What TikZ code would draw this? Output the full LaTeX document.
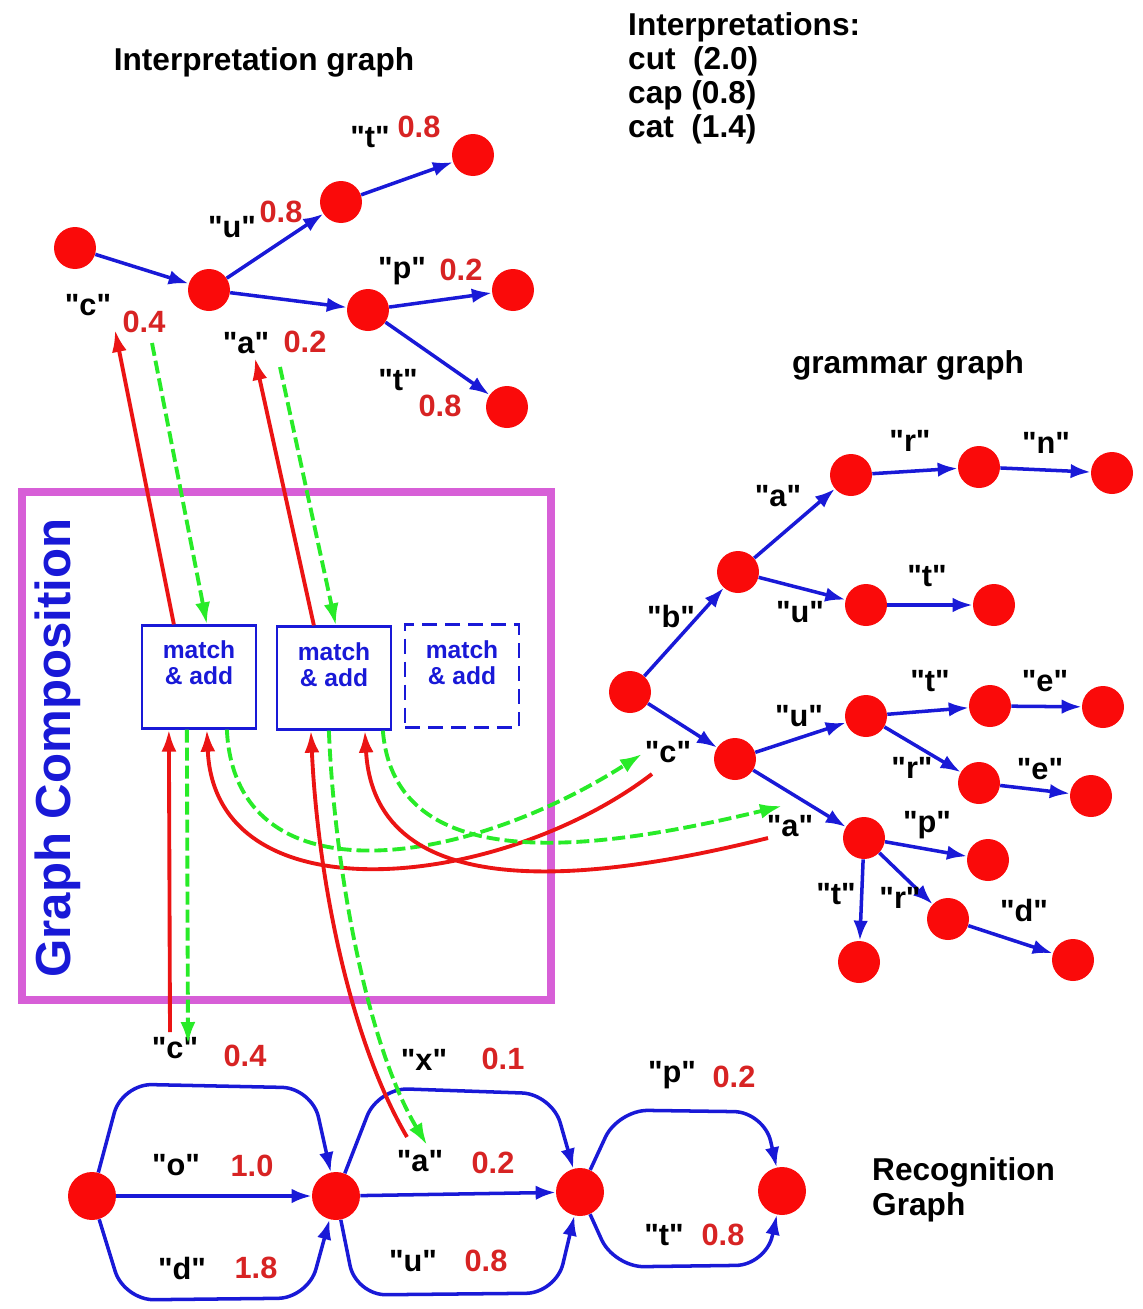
\documentclass[tikz,border=0pt]{standalone}
\usepackage{fontspec}
\setmainfont[Ligatures=TeXOff]{Liberation Sans}
\usetikzlibrary{arrows.meta,calc}

\definecolor{nodered}{RGB}{250,10,10}
\definecolor{edgeblue}{RGB}{25,25,215}
\definecolor{wtred}{RGB}{215,35,35}
\definecolor{compmag}{RGB}{215,95,215}
\definecolor{arrred}{RGB}{235,20,20}
\definecolor{arrgreen}{RGB}{40,235,40}

\begin{document}
\begin{tikzpicture}[
    x=0.02cm, y=-0.02cm,
    font=\bfseries,
    vertex/.style={circle, fill=nodered, inner sep=0pt, minimum size=0.84cm},
    bigvertex/.style={vertex, minimum size=0.96cm},
    link/.style={draw=edgeblue, line width=2pt, -{Latex[length=4mm,width=2.9mm]}},
    sym/.style={font=\fontsize{17.5}{19}\selectfont\bfseries},
    wt/.style={sym, text=wtred},
    heading/.style={font=\fontsize{18}{20}\selectfont\bfseries, align=left},
    matchbox/.style={draw=edgeblue, line width=1.3pt, minimum width=2.28cm, minimum height=2.06cm},
    matchtext/.style={text=edgeblue, align=center, font=\fontsize{14}{15}\selectfont\bfseries},
    redarrow/.style={draw=arrred, line width=2.2pt, -{Latex[length=4.4mm,width=3mm]}},
    greenarrow/.style={draw=arrgreen, line width=2.2pt, dash pattern=on 0.26cm off 0.1cm, -{Latex[length=4.4mm,width=3mm]}}
]
\useasboundingbox (0,0) rectangle (1143,1309);

% headings
\node[heading] (ititle) at (264,62) {Interpretation graph};
\node[heading, anchor=north west, font=\fontsize{18}{19.5}\selectfont\bfseries] (ilist) at (622,6) {Interpretations:\\cut~~(2.0)\\cap (0.8)\\cat~~(1.4)};
\node[heading] (gtitle) at (908,365) {grammar graph};
\node[heading, anchor=west, font=\fontsize{18}{20}\selectfont\bfseries] (rtitle) at (866,1190) {Recognition\\Graph};

% graph composition
\draw[compmag, line width=4pt] (22,492) rectangle (551,1000);
\node[rotate=90, text=edgeblue, font=\fontsize{28}{30}\selectfont\bfseries] (ctitle) at (58,748) {Graph Composition};

\node[matchbox] (m1) at (199,677) {};
\node[matchbox] (m2) at (334,678) {};
\node[matchbox, dashed, dash pattern=on 0.3cm off 0.16cm] (m3) at (462,676) {};
\node[matchtext] (m1t) at (199,663) {match\\\& add};
\node[matchtext] (m2t) at (334,665) {match\\\& add};
\node[matchtext] (m3t) at (462,663) {match\\\& add};

% interpretation graph
\node[vertex] (i0) at (75,248) {};
\node[vertex] (i1) at (209,290) {};
\node[vertex] (i2) at (341,202) {};
\node[vertex] (i3) at (473,155) {};
\node[vertex] (i4) at (368,310) {};
\node[vertex] (i5) at (513,290) {};
\node[vertex] (i6) at (507,407) {};

\draw[link] (i0) -- (i1);
\draw[link] (i1) -- (i2);
\draw[link] (i2) -- (i3);
\draw[link] (i1) -- (i4);
\draw[link] (i4) -- (i5);
\draw[link] (i4) -- (i6);

\node[sym] (lc) at (88,305) {"c"};
\node[wt] (wc) at (144,322) {0.4};
\node[sym] (lu) at (232,227) {"u"};
\node[wt] (wu) at (281,212) {0.8};
\node[sym] (lt1) at (370,137) {"t"};
\node[wt] (wt1) at (419,127) {0.8};
\node[sym] (lp) at (402,271) {"p"};
\node[wt] (wp) at (461,270) {0.2};
\node[sym] (la) at (246,343) {"a"};
\node[wt] (wa) at (305,342) {0.2};
\node[sym] (lt2) at (398,380) {"t"};
\node[wt] (wt2) at (440,406) {0.8};

% grammar graph
\node[vertex] (g0) at (630,692) {};
\node[vertex] (g1) at (738,572) {};
\node[vertex] (g2) at (851,475) {};
\node[vertex] (g3) at (979,467) {};
\node[vertex] (g4) at (1112,473) {};
\node[vertex] (g5) at (866,605) {};
\node[vertex] (g6) at (994,605) {};
\node[vertex] (g7) at (735,759) {};
\node[vertex] (g8) at (866,716) {};
\node[vertex] (g9) at (990,706) {};
\node[vertex] (g10) at (1103,707) {};
\node[vertex] (g11) at (979,783) {};
\node[vertex] (g12) at (1091,796) {};
\node[vertex] (g13) at (864,838) {};
\node[vertex] (g14) at (988,860) {};
\node[vertex] (g15) at (948,919) {};
\node[vertex] (g16) at (859,962) {};
\node[vertex] (g17) at (1073,960) {};

\draw[link] (g0) -- (g1);
\draw[link] (g1) -- (g2);
\draw[link] (g2) -- (g3);
\draw[link] (g3) -- (g4);
\draw[link] (g1) -- (g5);
\draw[link] (g5) -- (g6);
\draw[link] (g0) -- (g7);
\draw[link] (g7) -- (g8);
\draw[link] (g8) -- (g9);
\draw[link] (g9) -- (g10);
\draw[link] (g8) -- (g11);
\draw[link] (g11) -- (g12);
\draw[link] (g7) -- (g13);
\draw[link] (g13) -- (g14);
\draw[link] (g13) -- (g15);
\draw[link] (g15) -- (g17);
\draw[link] (g13) -- (g16);

\node[sym] (gr1) at (910,441) {"r"};
\node[sym] (gn) at (1046,443) {"n"};
\node[sym] (ga1) at (778,496) {"a"};
\node[sym] (gb) at (671,617) {"b"};
\node[sym] (gu1) at (800,612) {"u"};
\node[sym] (gt1) at (927,576) {"t"};
\node[sym] (gt2) at (930,681) {"t"};
\node[sym] (ge1) at (1045,681) {"e"};
\node[sym] (gu2) at (799,716) {"u"};
\node[sym] (gc) at (668,752) {"c"};
\node[sym] (gr2) at (912,768) {"r"};
\node[sym] (ge2) at (1040,769) {"e"};
\node[sym] (ga2) at (790,826) {"a"};
\node[sym] (gp) at (927,825) {"p"};
\node[sym] (gt3) at (836,894) {"t"};
\node[sym] (gr3) at (900,898) {"r"};
\node[sym] (gd) at (1024,910) {"d"};

% recognition graph
\node[bigvertex] (r0) at (92,1196) {};
\node[bigvertex] (r1) at (336,1196) {};
\node[bigvertex] (r2) at (580,1192) {};
\node[bigvertex] (r3) at (782,1191) {};

\draw[link] (r0) -- (r1);
\draw[link] (r1) -- (r2);
\draw[link, rounded corners=0.6cm] (r0) -- (122,1084) -- (312,1088) -- (r1);
\draw[link, rounded corners=0.6cm] (r0) -- (124,1300) -- (308,1298) -- (r1);
\draw[link, rounded corners=0.6cm] (r1) -- (378,1088) -- (552,1094) -- (r2);
\draw[link, rounded corners=0.6cm] (r1) -- (356,1295) -- (556,1293) -- (r2);
\draw[link, rounded corners=0.6cm] (r2) -- (618,1110) -- (764,1112) -- (r3);
\draw[link, rounded corners=0.6cm] (r2) -- (614,1267) -- (766,1265) -- (r3);

\node[sym] (rc) at (175,1048) {"c"};
\node[wt] (rcw) at (245,1056) {0.4};
\node[sym] (rx) at (424,1060) {"x"};
\node[wt] (rxw) at (503,1059) {0.1};
\node[sym] (rp) at (672,1075) {"p"};
\node[wt] (rpw) at (734,1077) {0.2};
\node[sym] (ro) at (176,1165) {"o"};
\node[wt] (row) at (252,1166) {1.0};
\node[sym] (ra) at (420,1161) {"a"};
\node[wt] (raw) at (493,1163) {0.2};
\node[sym] (rd) at (182,1268) {"d"};
\node[wt] (rdw) at (256,1268) {1.8};
\node[sym] (ru) at (413,1261) {"u"};
\node[wt] (ruw) at (486,1261) {0.8};
\node[sym] (rt) at (664,1235) {"t"};
\node[wt] (rtw) at (723,1235) {0.8};

% composition arrows
\coordinate (ictip) at (115,330);
\coordinate (icgo) at (152,343);
\coordinate (iatip) at (255,358);
\coordinate (iago) at (280,367);
\coordinate (rcgo) at (170,1032);
\coordinate (rctip) at (188,1044);
\coordinate (rago) at (407,1137);
\coordinate (ratip) at (427,1145);
\coordinate (gcgo) at (652,774);
\coordinate (gctip) at (642,754);
\coordinate (gago) at (768,838);
\coordinate (gatip) at (782,806);

\draw[redarrow] ($(m1.north west)+(33,0)$) -- (ictip);
\draw[greenarrow] (icgo) -- ($(m1.north west)+(66,0)$);
\draw[redarrow] ($(m2.north west)+(38,0)$) -- (iatip);
\draw[greenarrow] (iago) -- ($(m2.north west)+(60,0)$);

\draw[redarrow] (rcgo) -- ($(m1.south west)+(28,0)$);
\draw[greenarrow] ($(m1.south west)+(46,0)$) -- (rctip);
\draw[redarrow] (gcgo) .. controls (500,890) and (215,920) .. ($(m1.south west)+(66,0)$);
\draw[greenarrow] ($(m1.south west)+(86,0)$) .. controls (235,900) and (460,870) .. (gctip);

\draw[redarrow] (rago) .. controls (350,1040) and (318,880) .. ($(m2.south west)+(35,0)$);
\draw[greenarrow] ($(m2.south west)+(53,0)$) .. controls (335,880) and (370,1050) .. (ratip);
\draw[redarrow] (gago) .. controls (600,880) and (375,910) .. ($(m2.south west)+(89,0)$);
\draw[greenarrow] ($(m2.south west)+(107,0)$) .. controls (395,880) and (600,850) .. (gatip);

\end{tikzpicture}
\end{document}
